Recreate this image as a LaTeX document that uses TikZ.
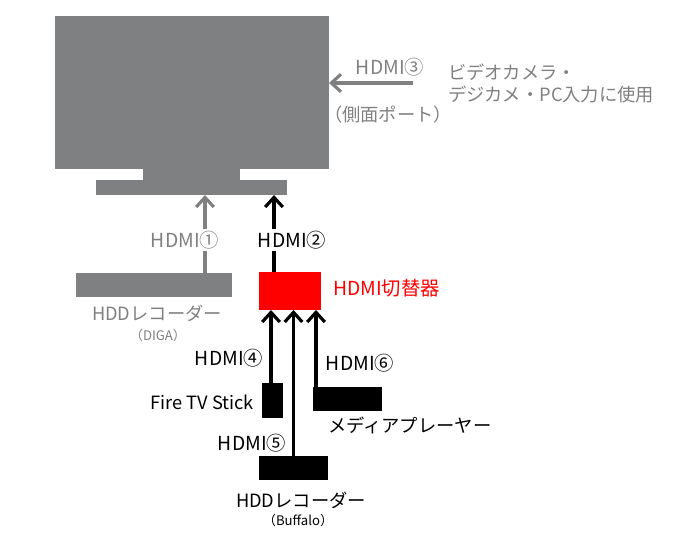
\documentclass[tikz,border=0pt]{standalone}
\usepackage{fontspec}
\setmainfont{Noto Sans CJK JP}
\usepackage{xcolor}
\usetikzlibrary{calc,arrows.meta}

\definecolor{tvgray}{RGB}{127,128,130}
\definecolor{txtgray}{RGB}{128,128,128}
\definecolor{swred}{RGB}{255,0,0}

\tikzset{
  box/.style={rectangle, inner sep=0pt, outer sep=0pt},
  cable/.style={line width=2pt, -{Straight Barb[length=5.5pt,width=10pt,line width=1.8pt]}},
  lbl/.style={inner sep=1pt, font=\fontsize{10.4pt}{13pt}\selectfont},
  hdmi/.style={inner sep=1pt, font=\fontsize{11pt}{13pt}\selectfont},
  small/.style={inner sep=1pt, font=\fontsize{7.5pt}{9pt}\selectfont}
}

\begin{document}
\begin{tikzpicture}[x=0.02cm, y=-0.02cm]
  \useasboundingbox (0,0) rectangle (680,557);
  % television
  \node[box, fill=tvgray, minimum width=5.48cm, minimum height=3.06cm] (tv) at (192,92.5) {};
  \node[box, fill=tvgray, minimum width=1.94cm, minimum height=0.22cm] (neck) at (191.5,174.5) {};
  \node[box, fill=tvgray, minimum width=3.82cm, minimum height=0.30cm] (base) at (191.5,187.5) {};
  % devices
  \node[box, fill=tvgray, minimum width=3.12cm, minimum height=0.48cm] (diga) at (154,285) {};
  \node[box, fill=swred, minimum width=1.24cm, minimum height=0.76cm] (sw) at (290,291) {};
  \node[box, fill=black, minimum width=0.42cm, minimum height=0.70cm] (firetv) at (272.5,400.5) {};
  \node[box, fill=black, minimum width=1.38cm, minimum height=0.48cm] (buffalo) at (293.5,468) {};
  \node[box, fill=black, minimum width=1.38cm, minimum height=0.48cm] (player) at (347.5,399) {};

  % HDMI 3 (side port)
  \coordinate (cam) at (413,83);
  \draw[cable, txtgray] (cam) -- (cam -| tv.east);
  \node[hdmi, text=txtgray] (h3) at (390,67) {HDMI③};
  \node[lbl, anchor=west, align=left, text=txtgray] (camtxt) at (446,83.5) {ビデオカメラ・\\[0pt]デジカメ・PC入力に使用};
  \node[lbl, text=txtgray] (side) at (388,115) {（側面ポート）};

  % HDMI 1 and 2
  \coordinate (d1) at ($(diga.north east)+(-27,0)$);
  \draw[cable, txtgray] (d1) -- (d1 |- base.south);
  \node[hdmi, fill=white, text=txtgray] (h1) at (185,240) {HDMI①};
  \coordinate (s2) at ($(sw.north west)+(15,0)$);
  \draw[cable] (s2) -- (s2 |- base.south);
  \node[hdmi, fill=white] (h2) at (292,240) {HDMI②};

  \node[lbl, text=txtgray] (digatxt) at (157,313) {HDDレコーダー};
  \node[small, text=txtgray] (digasub) at (158,335) {（DIGA）};
  \node[hdmi, anchor=west, text=swred] (swtxt) at (331,288) {HDMI切替器};

  % inputs of the switcher
  \coordinate (f4) at ($(firetv.north west)+(9,0)$);
  \draw[cable] (f4) -- (f4 |- sw.south);
  \draw[cable] (buffalo.north) -- (buffalo.north |- sw.south);
  \coordinate (p6) at ($(player.north west)+(3,0)$);
  \draw[cable] (p6) -- (p6 |- sw.south);

  \node[hdmi] (h4) at (229,358) {HDMI④};
  \node[lbl, anchor=east] (firetxt) at (256,402) {Fire TV Stick};
  \node[hdmi] (h5) at (252,443) {HDMI⑤};
  \node[hdmi] (h6) at (360,363) {HDMI⑥};
  \node[lbl, anchor=west] (playtxt) at (326,425) {メディアプレーヤー};
  \node[lbl] (buftxt) at (301,500) {HDDレコーダー};
  \node[small] (bufsub) at (298,520) {（Buffalo）};
\end{tikzpicture}
\end{document}
